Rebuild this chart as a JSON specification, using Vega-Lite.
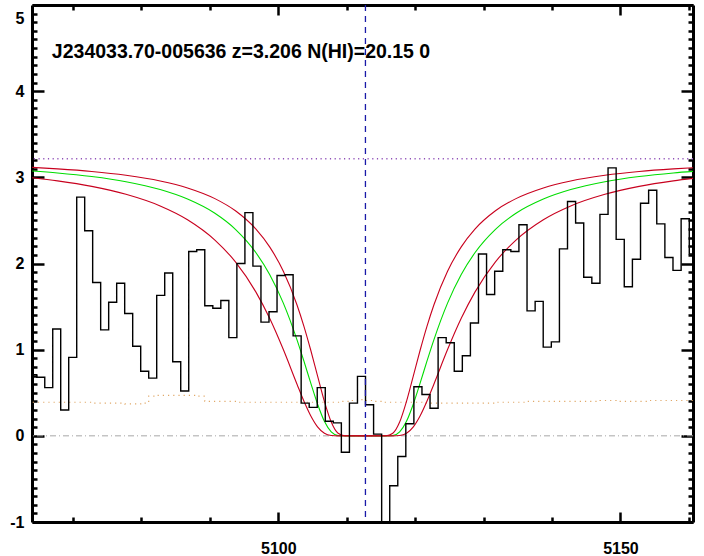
{
  "$schema": "https://vega.github.io/schema/vega-lite/v6.json",
  "width": 661,
  "height": 517,
  "autosize": "none",
  "padding": {"left": 32, "top": 5, "right": 11, "bottom": 34},
  "background": "white",
  "config": {
    "view": {"stroke": null},
    "axis": {
      "grid": false,
      "domainColor": "black",
      "domainWidth": 3,
      "tickColor": "black",
      "tickWidth": 2.5,
      "labelFont": "Liberation Sans",
      "labelFontWeight": "bold",
      "labelFontSize": 16,
      "labelColor": "black",
      "labelOverlap": false,
      "labelFlush": false
    }
  },
  "datasets": {
    "spec": [
      {"w": 5064.11, "f": 0.71, "e": 0.39},
      {"w": 5065.28, "f": 0.68, "e": 0.39},
      {"w": 5066.45, "f": 0.56, "e": 0.39},
      {"w": 5067.61, "f": 1.24, "e": 0.39},
      {"w": 5068.78, "f": 0.30, "e": 0.39},
      {"w": 5069.95, "f": 0.91, "e": 0.39},
      {"w": 5071.12, "f": 2.77, "e": 0.39},
      {"w": 5072.28, "f": 2.38, "e": 0.39},
      {"w": 5073.45, "f": 1.78, "e": 0.38},
      {"w": 5074.62, "f": 1.23, "e": 0.38},
      {"w": 5075.79, "f": 1.55, "e": 0.38},
      {"w": 5076.96, "f": 1.77, "e": 0.38},
      {"w": 5078.13, "f": 1.42, "e": 0.37},
      {"w": 5079.30, "f": 1.04, "e": 0.37},
      {"w": 5080.47, "f": 0.75, "e": 0.38},
      {"w": 5081.64, "f": 0.67, "e": 0.46},
      {"w": 5082.81, "f": 1.63, "e": 0.47},
      {"w": 5083.98, "f": 1.89, "e": 0.47},
      {"w": 5085.15, "f": 0.86, "e": 0.47},
      {"w": 5086.32, "f": 0.52, "e": 0.47},
      {"w": 5087.49, "f": 2.14, "e": 0.47},
      {"w": 5088.66, "f": 2.16, "e": 0.46},
      {"w": 5089.84, "f": 1.51, "e": 0.40},
      {"w": 5091.01, "f": 1.48, "e": 0.40},
      {"w": 5092.18, "f": 1.57, "e": 0.40},
      {"w": 5093.35, "f": 1.14, "e": 0.40},
      {"w": 5094.53, "f": 2.00, "e": 0.39},
      {"w": 5095.70, "f": 2.59, "e": 0.39},
      {"w": 5096.87, "f": 1.97, "e": 0.39},
      {"w": 5098.05, "f": 1.32, "e": 0.39},
      {"w": 5099.22, "f": 1.44, "e": 0.39},
      {"w": 5100.40, "f": 1.86, "e": 0.39},
      {"w": 5101.57, "f": 1.87, "e": 0.39},
      {"w": 5102.75, "f": 1.16, "e": 0.39},
      {"w": 5103.92, "f": 0.38, "e": 0.39},
      {"w": 5105.10, "f": 0.33, "e": 0.39},
      {"w": 5106.27, "f": 0.56, "e": 0.39},
      {"w": 5107.45, "f": 0.17, "e": 0.39},
      {"w": 5108.62, "f": 0.15, "e": 0.39},
      {"w": 5109.80, "f": -0.19, "e": 0.40},
      {"w": 5110.98, "f": 0.38, "e": 0.41},
      {"w": 5112.15, "f": 0.69, "e": 0.42},
      {"w": 5113.33, "f": 0.36, "e": 0.41},
      {"w": 5114.51, "f": 0.02, "e": 0.40},
      {"w": 5115.69, "f": -1.0, "e": 0.39},
      {"w": 5116.87, "f": -0.58, "e": 0.39},
      {"w": 5118.04, "f": -0.24, "e": 0.39},
      {"w": 5119.22, "f": 0.14, "e": 0.39},
      {"w": 5120.40, "f": 0.57, "e": 0.39},
      {"w": 5121.58, "f": 0.48, "e": 0.38},
      {"w": 5122.76, "f": 0.32, "e": 0.38},
      {"w": 5123.94, "f": 1.14, "e": 0.38},
      {"w": 5125.12, "f": 1.08, "e": 0.38},
      {"w": 5126.30, "f": 0.75, "e": 0.38},
      {"w": 5127.48, "f": 0.93, "e": 0.38},
      {"w": 5128.66, "f": 1.31, "e": 0.38},
      {"w": 5129.84, "f": 2.11, "e": 0.38},
      {"w": 5131.02, "f": 1.64, "e": 0.38},
      {"w": 5132.21, "f": 1.91, "e": 0.39},
      {"w": 5133.39, "f": 2.16, "e": 0.39},
      {"w": 5134.57, "f": 2.14, "e": 0.39},
      {"w": 5135.75, "f": 2.45, "e": 0.39},
      {"w": 5136.94, "f": 1.45, "e": 0.40},
      {"w": 5138.12, "f": 1.56, "e": 0.40},
      {"w": 5139.30, "f": 1.03, "e": 0.40},
      {"w": 5140.49, "f": 1.09, "e": 0.40},
      {"w": 5141.67, "f": 2.17, "e": 0.40},
      {"w": 5142.85, "f": 2.72, "e": 0.40},
      {"w": 5144.04, "f": 2.47, "e": 0.40},
      {"w": 5145.22, "f": 1.84, "e": 0.40},
      {"w": 5146.41, "f": 1.77, "e": 0.40},
      {"w": 5147.59, "f": 2.57, "e": 0.41},
      {"w": 5148.78, "f": 3.11, "e": 0.41},
      {"w": 5149.96, "f": 2.28, "e": 0.40},
      {"w": 5151.15, "f": 1.73, "e": 0.40},
      {"w": 5152.34, "f": 2.05, "e": 0.40},
      {"w": 5153.52, "f": 2.70, "e": 0.40},
      {"w": 5154.71, "f": 2.85, "e": 0.41},
      {"w": 5155.90, "f": 2.46, "e": 0.41},
      {"w": 5157.08, "f": 2.07, "e": 0.41},
      {"w": 5158.27, "f": 1.92, "e": 0.41},
      {"w": 5159.46, "f": 2.52, "e": 0.41},
      {"w": 5160.65, "f": 2.11, "e": 0.41}
    ],
    "model": [
      {"w": 5064.03, "hi": 3.115, "mid": 3.074, "lo": 2.995},
      {"w": 5067.73, "hi": 3.098, "mid": 3.051, "lo": 2.959},
      {"w": 5072.73, "hi": 3.068, "mid": 3.009, "lo": 2.895},
      {"w": 5077.73, "hi": 3.024, "mid": 2.949, "lo": 2.803},
      {"w": 5082.73, "hi": 2.958, "mid": 2.858, "lo": 2.668},
      {"w": 5086.73, "hi": 2.877, "mid": 2.748, "lo": 2.508},
      {"w": 5090.73, "hi": 2.753, "mid": 2.583, "lo": 2.272},
      {"w": 5093.73, "hi": 2.612, "mid": 2.397, "lo": 2.019},
      {"w": 5096.73, "hi": 2.399, "mid": 2.125, "lo": 1.668},
      {"w": 5098.73, "hi": 2.193, "mid": 1.872, "lo": 1.364},
      {"w": 5100.73, "hi": 1.910, "mid": 1.540, "lo": 1.001},
      {"w": 5102.73, "hi": 1.519, "mid": 1.114, "lo": 0.599},
      {"w": 5103.73, "hi": 1.274, "mid": 0.869, "lo": 0.404},
      {"w": 5104.73, "hi": 0.996, "mid": 0.614, "lo": 0.233},
      {"w": 5105.73, "hi": 0.696, "mid": 0.370, "lo": 0.104},
      {"w": 5106.73, "hi": 0.400, "mid": 0.169, "lo": 0.030},
      {"w": 5107.73, "hi": 0.160, "mid": 0.046, "lo": 0.004},
      {"w": 5108.73, "hi": 0.030, "mid": 0.004, "lo": 0.0},
      {"w": 5109.73, "hi": 0.001, "mid": 0.0, "lo": 0.0},
      {"w": 5112.73, "hi": 0.0, "mid": 0.0, "lo": 0.0},
      {"w": 5115.73, "hi": 0.001, "mid": 0.0, "lo": 0.0},
      {"w": 5116.73, "hi": 0.030, "mid": 0.004, "lo": 0.0},
      {"w": 5117.73, "hi": 0.160, "mid": 0.046, "lo": 0.004},
      {"w": 5118.73, "hi": 0.400, "mid": 0.169, "lo": 0.030},
      {"w": 5119.73, "hi": 0.696, "mid": 0.370, "lo": 0.104},
      {"w": 5120.73, "hi": 0.996, "mid": 0.614, "lo": 0.233},
      {"w": 5121.73, "hi": 1.274, "mid": 0.869, "lo": 0.404},
      {"w": 5122.73, "hi": 1.519, "mid": 1.114, "lo": 0.599},
      {"w": 5124.73, "hi": 1.910, "mid": 1.540, "lo": 1.001},
      {"w": 5126.73, "hi": 2.193, "mid": 1.872, "lo": 1.364},
      {"w": 5128.73, "hi": 2.399, "mid": 2.125, "lo": 1.668},
      {"w": 5131.73, "hi": 2.612, "mid": 2.397, "lo": 2.019},
      {"w": 5134.73, "hi": 2.753, "mid": 2.583, "lo": 2.272},
      {"w": 5138.73, "hi": 2.877, "mid": 2.748, "lo": 2.508},
      {"w": 5142.73, "hi": 2.958, "mid": 2.858, "lo": 2.668},
      {"w": 5147.73, "hi": 3.024, "mid": 2.949, "lo": 2.803},
      {"w": 5152.73, "hi": 3.068, "mid": 3.009, "lo": 2.895},
      {"w": 5157.73, "hi": 3.098, "mid": 3.051, "lo": 2.959},
      {"w": 5161.43, "hi": 3.115, "mid": 3.074, "lo": 2.995}
    ]
  },
  "layer": [
    {
      "data": {"values": [{"level": 0}]},
      "mark": {"type": "rule", "color": "#a8a8a8", "strokeWidth": 1, "strokeDash": [6, 3, 1, 3]},
      "encoding": {"y": {"field": "level", "type": "quantitative", "axis": null}}
    },
    {
      "data": {"values": [{"level": 3.215}]},
      "mark": {"type": "rule", "color": "#9050b8", "strokeWidth": 1.5, "strokeDash": [1.2, 3.5]},
      "encoding": {"y": {"field": "level", "type": "quantitative", "axis": null}}
    },
    {
      "data": {"name": "spec"},
      "mark": {"type": "line", "interpolate": "step", "color": "#e0a868", "strokeWidth": 1.2, "strokeDash": [1.2, 4], "clip": true},
      "encoding": {
        "x": {"field": "w", "type": "quantitative", "axis": null},
        "y": {"field": "e", "type": "quantitative", "axis": null}
      }
    },
    {
      "data": {"name": "model"},
      "mark": {"type": "line", "interpolate": "monotone", "color": "#00dd00", "strokeWidth": 1.1, "clip": true},
      "encoding": {
        "x": {
          "field": "w", "type": "quantitative",
          "axis": {
            "orient": "top", "title": null, "labels": false,
            "values": [5070, 5080, 5090, 5100, 5110, 5120, 5130, 5140, 5150, 5160],
            "tickSize": {"condition": {"test": "datum.value % 50 === 0", "value": -10}, "value": -5}
          }
        },
        "y": {
          "field": "mid", "type": "quantitative",
          "axis": {
            "orient": "right", "title": null, "labels": false,
            "values": [-1, -0.9, -0.8, -0.7, -0.6, -0.5, -0.4, -0.3, -0.2, -0.1, 0, 0.1, 0.2, 0.3, 0.4, 0.5, 0.6, 0.7, 0.8, 0.9, 1, 1.1, 1.2, 1.3, 1.4, 1.5, 1.6, 1.7, 1.8, 1.9, 2, 2.1, 2.2, 2.3, 2.4, 2.5, 2.6, 2.7, 2.8, 2.9, 3, 3.1, 3.2, 3.3, 3.4, 3.5, 3.6, 3.7, 3.8, 3.9, 4, 4.1, 4.2, 4.3, 4.4, 4.5, 4.6, 4.7, 4.8, 4.9, 5],
            "tickSize": {"condition": {"test": "abs(datum.value - round(datum.value)) < 0.001", "value": -12}, "value": -5}
          }
        }
      }
    },
    {
      "data": {"name": "model"},
      "mark": {"type": "line", "interpolate": "monotone", "color": "#c8001e", "strokeWidth": 1.1, "clip": true},
      "encoding": {
        "x": {"field": "w", "type": "quantitative", "axis": null},
        "y": {"field": "hi", "type": "quantitative", "axis": null}
      }
    },
    {
      "data": {"name": "model"},
      "mark": {"type": "line", "interpolate": "monotone", "color": "#c8001e", "strokeWidth": 1.1, "clip": true},
      "encoding": {
        "x": {"field": "w", "type": "quantitative", "axis": null},
        "y": {"field": "lo", "type": "quantitative", "axis": null}
      }
    },
    {
      "data": {"name": "spec"},
      "mark": {"type": "line", "interpolate": "step", "color": "black", "strokeWidth": 1.4, "clip": true},
      "encoding": {
        "x": {
          "field": "w", "type": "quantitative",
          "scale": {"domain": [5064, 5160.6], "nice": false, "zero": false},
          "axis": {
            "orient": "bottom", "title": null,
            "values": [5070, 5080, 5090, 5100, 5110, 5120, 5130, 5140, 5150, 5160],
            "tickSize": {"condition": {"test": "datum.value % 50 === 0", "value": -10}, "value": -5},
            "labelExpr": "datum.value % 50 === 0 ? '' + datum.value : ''",
            "labelPadding": 28
          }
        },
        "y": {
          "field": "f", "type": "quantitative",
          "scale": {"domain": [-1, 5], "nice": false, "zero": false},
          "axis": {
            "orient": "left", "title": null,
            "values": [-1, -0.9, -0.8, -0.7, -0.6, -0.5, -0.4, -0.3, -0.2, -0.1, 0, 0.1, 0.2, 0.3, 0.4, 0.5, 0.6, 0.7, 0.8, 0.9, 1, 1.1, 1.2, 1.3, 1.4, 1.5, 1.6, 1.7, 1.8, 1.9, 2, 2.1, 2.2, 2.3, 2.4, 2.5, 2.6, 2.7, 2.8, 2.9, 3, 3.1, 3.2, 3.3, 3.4, 3.5, 3.6, 3.7, 3.8, 3.9, 4, 4.1, 4.2, 4.3, 4.4, 4.5, 4.6, 4.7, 4.8, 4.9, 5],
            "tickSize": {"condition": {"test": "abs(datum.value - round(datum.value)) < 0.001", "value": -12}, "value": -5},
            "labelExpr": "abs(datum.value - round(datum.value)) < 0.001 ? '' + round(datum.value) : ''",
            "labelBaseline": {"condition": {"test": "datum.value === 5", "value": "top"}, "value": "middle"},
            "labelOffset": {"condition": {"test": "datum.value === 5", "value": 5}, "value": 0},
            "labelPadding": 20
          }
        }
      }
    },
    {
      "data": {"values": [{"wc": 5112.73}]},
      "mark": {"type": "rule", "color": "#1a1aa8", "strokeWidth": 1.3, "strokeDash": [6, 5]},
      "encoding": {"x": {"field": "wc", "type": "quantitative", "axis": null}}
    },
    {
      "data": {"values": [{"w": 5066.9, "y": 4.39, "label": "J234033.70-005636 z=3.206 N(HI)=20.15 0"}]},
      "mark": {"type": "text", "font": "Liberation Sans", "fontWeight": "bold", "fontSize": 19.5, "align": "left", "baseline": "alphabetic", "color": "black"},
      "encoding": {
        "x": {"field": "w", "type": "quantitative", "axis": null},
        "y": {"field": "y", "type": "quantitative", "axis": null},
        "text": {"field": "label"}
      }
    }
  ],
  "resolve": {"axis": {"x": "independent", "y": "independent"}}
}
